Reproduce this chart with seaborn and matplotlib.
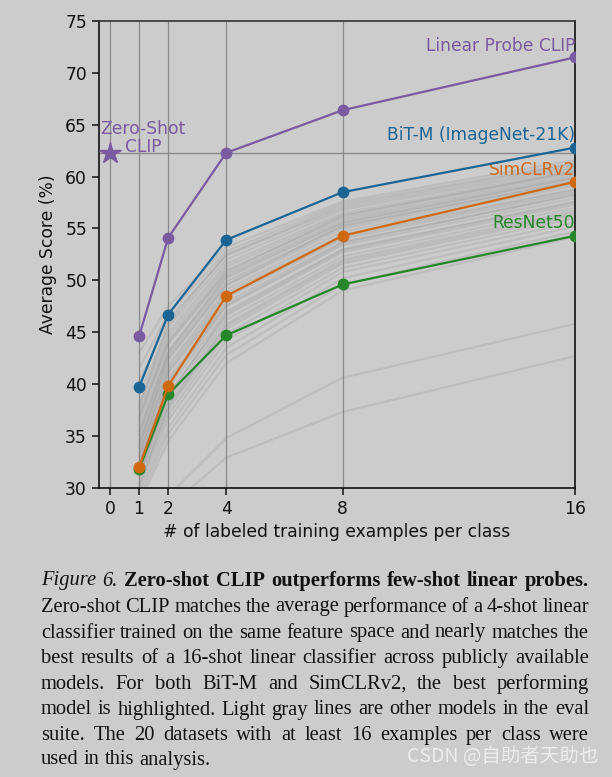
import numpy as np
import pandas as pd
import matplotlib
matplotlib.use('Agg')
import matplotlib.pyplot as plt
import seaborn as sns

# 横轴：每类的标注样本数
shots = [1, 2, 4, 8, 16]

# 高亮的四条曲线
linear_probe_clip = [44.6, 54.1, 62.3, 66.4, 71.5]
bit_m = [39.7, 46.7, 53.9, 58.5, 62.8]
simclr_v2 = [32.0, 39.8, 48.5, 54.3, 59.5]
resnet50 = [31.8, 39.0, 44.7, 49.6, 54.3]
zero_shot_clip = 62.3

# 其他模型（浅灰色线）
gray_models = [
    [43.0, 47.5, 53.2, 57.6, 61.6],
    [41.5, 46.8, 52.8, 57.4, 61.3],
    [40.2, 46.2, 52.4, 57.0, 61.0],
    [39.0, 45.5, 52.0, 56.8, 60.8],
    [38.2, 45.0, 51.6, 56.5, 60.6],
    [37.8, 45.8, 52.5, 57.2, 61.2],
    [37.5, 44.6, 51.3, 56.3, 60.4],
    [37.0, 44.2, 51.0, 56.0, 60.2],
    [36.8, 44.0, 50.8, 56.2, 60.5],
    [36.5, 43.8, 50.6, 55.8, 60.0],
    [36.0, 43.2, 50.2, 55.5, 59.8],
    [35.5, 42.8, 49.9, 55.2, 59.6],
    [35.2, 43.0, 50.4, 55.6, 59.9],
    [35.0, 42.3, 49.5, 55.0, 59.3],
    [34.6, 41.8, 49.1, 54.7, 59.1],
    [34.2, 41.5, 48.8, 54.4, 58.8],
    [34.0, 42.5, 49.6, 55.3, 59.5],
    [33.8, 41.0, 48.3, 54.0, 58.5],
    [33.4, 40.5, 47.9, 53.7, 58.2],
    [33.2, 41.2, 48.5, 54.2, 58.7],
    [33.0, 40.0, 47.5, 53.4, 57.9],
    [32.6, 39.6, 47.0, 53.0, 57.6],
    [32.4, 40.2, 47.6, 53.6, 58.3],
    [32.2, 39.0, 46.6, 52.7, 57.3],
    [31.8, 38.5, 46.2, 52.3, 57.0],
    [31.4, 38.0, 45.8, 52.0, 56.7],
    [31.2, 38.8, 46.8, 52.9, 57.5],
    [31.0, 37.5, 45.3, 51.6, 56.3],
    [30.5, 37.0, 44.8, 51.2, 56.0],
    [30.2, 37.8, 45.6, 51.8, 56.5],
    [30.0, 36.5, 44.2, 50.8, 55.6],
    [29.5, 35.8, 43.5, 50.2, 55.2],
    [29.0, 35.2, 42.8, 49.6, 54.7],
    [28.5, 34.5, 42.0, 49.0, 54.2],
    [22.0, 29.2, 34.8, 40.6, 45.8],
    [20.0, 28.1, 32.9, 37.3, 42.7],
]

x_ticks = [0, 1, 2, 4, 8, 16]
y_ticks = [30, 35, 40, 45, 50, 55, 60, 65, 70, 75]

caption_lines = [
    "Zero-shot CLIP matches the average performance of a 4-shot linear",
    "classifier trained on the same feature space and nearly matches the",
    "best results of a 16-shot linear classifier across publicly available",
    "models.  For both BiT-M and SimCLRv2, the best performing",
    "model is highlighted. Light gray lines are other models in the eval",
    "suite.  The 20 datasets with at least 16 examples per class were",
    "used in this analysis.",
]

BG = '#cccccc'
PURPLE = '#7a5aa0'
BLUE = '#1b6595'
ORANGE = '#cf690f'
GREEN = '#25872a'
INK = '#111111'

sns.set_theme(style='ticks')
plt.rcParams['font.family'] = ['DejaVu Sans']

fig = plt.figure(figsize=(6.12, 7.77), dpi=100, facecolor=BG)
ax = fig.add_axes([0.1613, 0.3723, 0.7783, 0.6006], facecolor=BG)

# 灰色线
gray_df = pd.DataFrame([
    {'model': i, 'shots': s, 'score': v}
    for i, row in enumerate(gray_models)
    for s, v in zip(shots, row)
])
sns.lineplot(data=gray_df, x='shots', y='score', units='model', estimator=None,
             color='#858585', alpha=0.2, linewidth=1.6, ax=ax, legend=False)

# 高亮曲线
for vals, col in [(resnet50, GREEN), (simclr_v2, ORANGE), (bit_m, BLUE), (linear_probe_clip, PURPLE)]:
    df = pd.DataFrame({'shots': shots, 'score': vals})
    sns.lineplot(data=df, x='shots', y='score', color=col, linewidth=1.6,
                 marker='o', markersize=8.5, markeredgewidth=0, ax=ax, zorder=5)

# zero-shot 星号与水平参考线
ax.axhline(zero_shot_clip, color='#8a8a8a', linewidth=1.0, zorder=1)
ax.plot([0], [zero_shot_clip], marker='*', markersize=16, color=PURPLE,
        linestyle='none', zorder=6)

ax.set_xlim(-0.39, 16)
ax.set_ylim(30, 75)
ax.set_xticks(x_ticks)
ax.set_yticks(y_ticks)
ax.grid(axis='x', color='#8a8a8a', linewidth=0.9)
ax.grid(axis='y', visible=False)
for side in ['left', 'right', 'top', 'bottom']:
    ax.spines[side].set_visible(True)
    ax.spines[side].set_color('#111111')
    ax.spines[side].set_linewidth(1.2)
ax.spines['top'].set_color('#333333')
ax.tick_params(axis='both', labelsize=12.3, colors=INK, length=5, width=1.1, direction='out')
ax.set_xlabel('# of labeled training examples per class', fontsize=12.3, color=INK, labelpad=4)
ax.set_ylabel('Average Score (%)', fontsize=12.3, color=INK, labelpad=6)

# 文字标签
ax.text(16, 72.6, 'Linear Probe CLIP', color=PURPLE, fontsize=12.3, ha='right', va='center')
ax.text(16, 64.0, 'BiT-M (ImageNet-21K)', color=BLUE, fontsize=12.3, ha='right', va='center')
ax.text(16, 60.6, 'SimCLRv2', color=ORANGE, fontsize=12.3, ha='right', va='center')
ax.text(16, 55.5, 'ResNet50', color=GREEN, fontsize=12.3, ha='right', va='center')
ax.text(1.14, 63.7, 'Zero-Shot\nCLIP', color=PURPLE, fontsize=12.3, ha='center', va='center',
        linespacing=1.0)

# 图注（两端对齐）
renderer = fig.canvas.get_renderer()
W, H = fig.get_size_inches() * fig.dpi
x_left, x_right = 41, 589
cap_size = 14.8


def text_width(s, **props):
    t = fig.text(0, 0, s, fontsize=cap_size, family='Liberation Serif', **props)
    w = t.get_window_extent(renderer).width
    t.remove()
    return w


def draw_words(y_px, words, justify=True):
    arts = []
    for w, props in words:
        t = fig.text(0, 1 - y_px / H, w, fontsize=cap_size, color=INK, va='center',
                     family='Liberation Serif', **props)
        arts.append(t)
    widths = [t.get_window_extent(renderer).width for t in arts]
    sw = text_width('a a') - text_width('aa')
    if justify and len(arts) > 1:
        gap = (x_right - x_left - sum(widths)) / (len(arts) - 1)
    else:
        gap = sw
    x = x_left
    for t, w in zip(arts, widths):
        t.set_x(x / W)
        x += w + gap


line_y = [581, 607, 633, 658.5, 684.5, 710, 735.5, 760]
first = [('Figure', {'style': 'italic'}), ('6.', {'style': 'italic'})] + \
    [(w, {'weight': 'bold'}) for w in 'Zero-shot CLIP outperforms few-shot linear probes.'.split()]
draw_words(line_y[0], first)
for i, line in enumerate(caption_lines):
    draw_words(line_y[i + 1], [(w, {}) for w in line.split()], justify=(i < len(caption_lines) - 1))

fig.text(598 / W, 1 - 757 / H, 'CSDN @自助者天助也', color='#ececec', fontsize=14,
         ha='right', va='center', family=['Noto Sans CJK SC', 'DejaVu Sans'])

fig.savefig('out.png', dpi=100, facecolor=BG)
